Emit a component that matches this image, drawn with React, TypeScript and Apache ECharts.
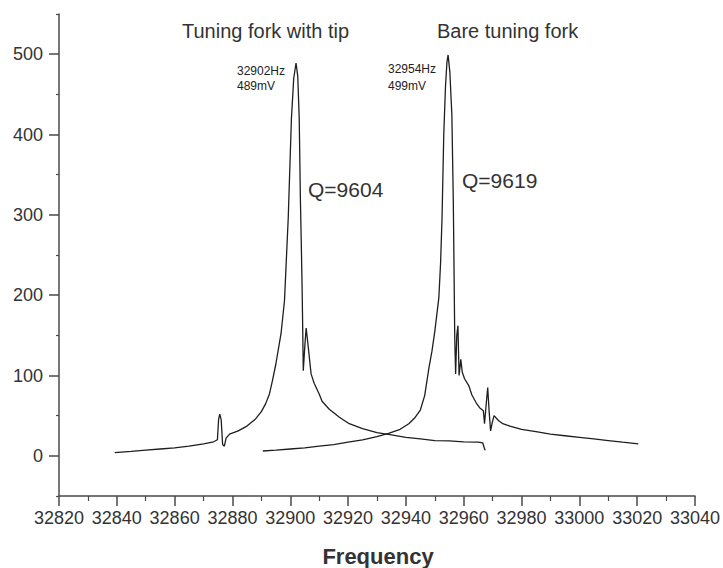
import React, { useEffect, useRef } from "react";
import * as echarts from "echarts";

// Tuning fork with tip: frequency (Hz) and amplitude (mV)
const tipFreq = [
  32839.3, 32845, 32850, 32855, 32860, 32865, 32870, 32873.5, 32874.8, 32875.2,
  32875.6, 32876.1, 32876.6, 32877.2, 32877.8, 32879, 32882, 32885, 32888, 32890,
  32891.5, 32892.8, 32893.8, 32895, 32896.8, 32898, 32899.3, 32900.4, 32901.2, 32902,
  32902.6, 32903.1, 32903.5, 32903.8, 32904.1, 32904.3, 32904.5, 32905.1, 32905.5, 32906,
  32907.2, 32908.3, 32910, 32911, 32913.5, 32917, 32920.4, 32925, 32930, 32935,
  32940, 32945, 32950, 32955, 32960, 32965, 32966.6, 32967.1, 32967.4,
];
const tipVal = [
  4, 5.5, 7, 8.5, 10, 12, 15, 17.5, 20, 45,
  52, 45, 14, 12, 22, 27, 31, 37, 46, 55,
  65, 77, 93, 114, 152, 193, 296, 420, 470, 489,
  472, 420, 320, 267, 209, 159, 106, 140, 159, 143,
  102, 90, 77, 68, 58, 48, 40, 34, 29, 26,
  23, 21, 19, 18.5, 17.5, 17, 16, 10, 7,
];

// Bare tuning fork
const bareFreq = [
  32890.5, 32895, 32900, 32905, 32910, 32915, 32920, 32925, 32930, 32934,
  32938, 32941, 32943, 32945, 32946.5, 32948, 32949, 32950, 32951.4, 32952,
  32952.5, 32953.1, 32953.7, 32954.2, 32954.6, 32955.2, 32955.9, 32956.4, 32956.6, 32956.9,
  32957.2, 32957.6, 32958, 32958.4, 32959, 32959.5, 32960.3, 32961.8, 32962.8, 32964.3,
  32965.5, 32966.8, 32967.2, 32967.8, 32968.3, 32968.8, 32969.3, 32969.9, 32970.5, 32972,
  32973.5, 32976, 32980, 32985, 32990, 32995, 33000, 33005, 33010, 33015,
  33020.4,
];
const bareVal = [
  6, 7, 8.5, 10, 12, 14, 17, 20, 24, 28,
  33, 40, 47, 57, 75, 110, 130, 155, 197, 240,
  296, 400, 460, 490, 499, 478, 425, 317, 250, 147,
  102, 150, 162, 100, 120, 104, 96, 87, 76, 66,
  60, 56, 40, 65, 85, 55, 31, 42, 50, 44,
  40, 37, 33, 30, 27, 25, 23, 21, 19, 17,
  15,
];

const xMin = 32820;
const xMax = 33040;
const xStep = 20;
const yMin = -50;
const yMax = 550;
const yMajorTicks = [0, 100, 200, 300, 400, 500];
const yMinorTicks = [-50, 50, 150, 250, 350, 450, 550];

const curveLabels = ["Tuning fork with tip", "Bare tuning fork"];
const peakLabels = [
  ["32902Hz", "489mV"],
  ["32954Hz", "499mV"],
];
const qLabels = ["Q=9604", "Q=9619"];
const xAxisName = "Frequency";

const FONT = "'Liberation Sans', Arial, sans-serif";

export default function App() {
  const ref = useRef<HTMLDivElement>(null);

  useEffect(() => {
    if (!ref.current) return;
    const chart = echarts.init(ref.current, undefined, { renderer: "svg" });
    const tipData = tipFreq.map((f, i) => [f, tipVal[i]]);
    const bareData = bareFreq.map((f, i) => [f, bareVal[i]]);
    const axisColor = "#4a4a4a";
    const textColor = "#333";

    const txt = (text: string, x: number, y: number, size: number, weight = "normal", color = "#222") => ({
      type: "text",
      x,
      y,
      silent: true,
      style: {
        text,
        fill: color,
        fontSize: size,
        fontFamily: FONT,
        fontWeight: weight,
        textAlign: "left",
        textVerticalAlign: "middle",
      },
    });

    chart.setOption({
      animation: false,
      backgroundColor: "#fff",
      grid: { left: 59, right: 26, top: 14, bottom: 72, containLabel: false },
      xAxis: {
        type: "value",
        min: xMin,
        max: xMax,
        interval: xStep,
        axisLine: { show: true, onZero: false, lineStyle: { color: axisColor, width: 1.5 } },
        axisTick: { show: true, length: 10, lineStyle: { color: axisColor, width: 1.5 } },
        minorTick: { show: true, splitNumber: 2, length: 5, lineStyle: { color: axisColor, width: 1.2 } },
        axisLabel: {
          fontSize: 18,
          color: textColor,
          margin: 13,
          fontFamily: FONT,
          formatter: (v: number) => String(Math.round(v)),
        },
        splitLine: { show: false },
        minorSplitLine: { show: false },
      },
      yAxis: [
        {
          type: "value",
          min: yMin,
          max: yMax,
          position: "left",
          axisLine: { show: true, onZero: false, lineStyle: { color: axisColor, width: 1.5 } },
          axisTick: { show: true, length: 10, customValues: yMajorTicks, lineStyle: { color: axisColor, width: 1.5 } },
          axisLabel: {
            fontSize: 18,
            color: textColor,
            margin: 16,
            fontFamily: FONT,
            customValues: yMajorTicks,
            formatter: (v: number) => String(Math.round(v)),
          },
          splitLine: { show: false },
        },
        {
          type: "value",
          min: yMin,
          max: yMax,
          position: "left",
          axisLine: { show: false },
          axisTick: { show: true, length: 3, customValues: yMinorTicks, lineStyle: { color: axisColor, width: 1.2 } },
          axisLabel: { show: false },
          splitLine: { show: false },
        },
      ],
      series: [
        {
          type: "line",
          name: curveLabels[0],
          data: tipData,
          yAxisIndex: 0,
          showSymbol: false,
          lineStyle: { color: "#1e1e1e", width: 1.3 },
          silent: true,
        },
        {
          type: "line",
          name: curveLabels[1],
          data: bareData,
          yAxisIndex: 0,
          showSymbol: false,
          lineStyle: { color: "#1e1e1e", width: 1.3 },
          silent: true,
        },
      ],
      graphic: [
        txt(curveLabels[0], 182, 31, 20, "normal", "#333"),
        txt(curveLabels[1], 437, 31, 20, "normal", "#333"),
        txt(peakLabels[0][0], 237, 71, 12),
        txt(peakLabels[0][1], 237, 86, 12),
        txt(peakLabels[1][0], 388, 69, 12),
        txt(peakLabels[1][1], 388, 86, 12),
        txt(qLabels[0], 308, 189, 21, "normal", "#333"),
        txt(qLabels[1], 462, 180, 21, "normal", "#333"),
        {
          type: "text",
          x: 378,
          y: 556,
          silent: true,
          style: {
            text: xAxisName,
            fill: "#333",
            fontSize: 22,
            fontWeight: "bold",
            fontFamily: FONT,
            textAlign: "center",
            textVerticalAlign: "middle",
          },
        },
      ],
    });
    return () => chart.dispose();
  }, []);

  return (
    <div
      ref={ref}
      style={{ position: "fixed", left: 0, top: 0, width: 723, height: 568, background: "#fff" }}
    />
  );
}
